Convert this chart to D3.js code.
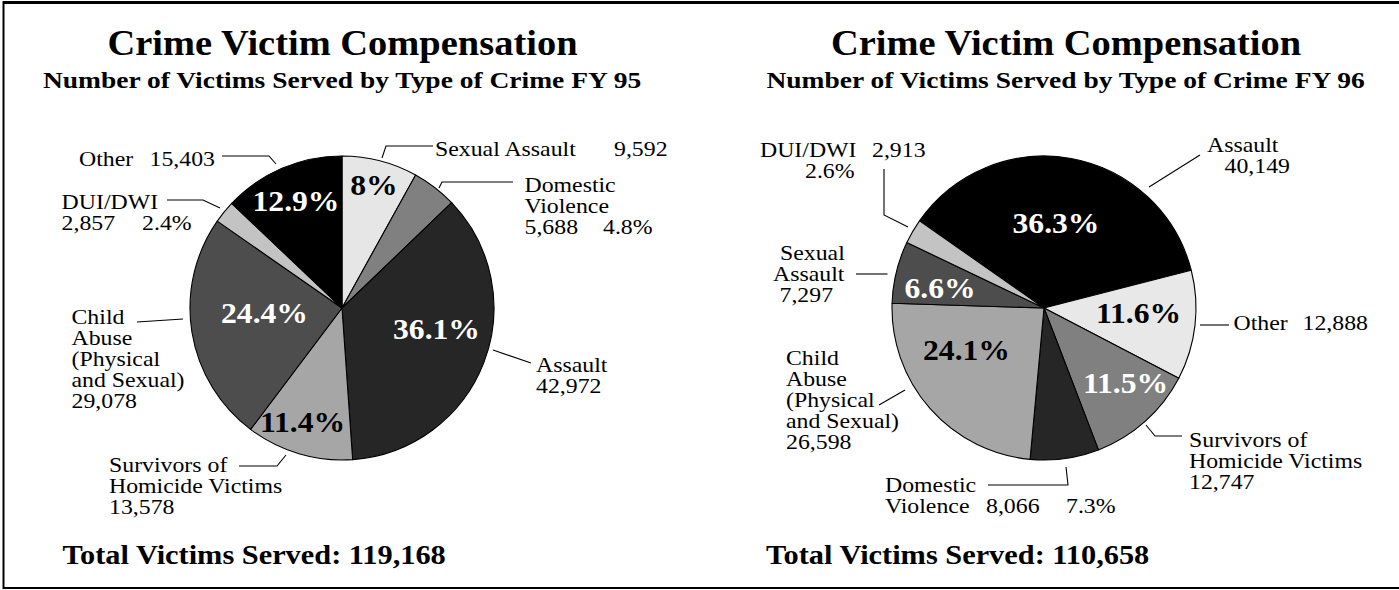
<!DOCTYPE html>
<html>
<head>
<meta charset="utf-8">
<script src="https://cdn.jsdelivr.net/npm/d3@7/dist/d3.min.js"></script>
<style>
  html, body { margin: 0; padding: 0; background: #fff; }
  svg { display: block; }
</style>
</head>
<body>
<svg id="chart" width="1399" height="590"></svg>
<script>
// ---------------- DATA ----------------
const titleText = "Crime Victim Compensation";
const subtitlePrefix = "Number of Victims Served by Type of Crime FY ";
const years = ["95", "96"];
const totals = [119168, 110658];

// FY 95 (clockwise from 12 o'clock)
const cats95 = ["Sexual Assault", "Domestic Violence", "Assault", "Survivors of Homicide Victims",
                "Child Abuse (Physical and Sexual)", "DUI/DWI", "Other"];
const vals95 = [9592, 5688, 42972, 13578, 29078, 2857, 15403];
const pct95  = [8, 4.8, 36.1, 11.4, 24.4, 2.4, 12.9];

// FY 96 (clockwise)
const cats96 = ["Assault", "Other", "Survivors of Homicide Victims", "Domestic Violence",
                "Child Abuse (Physical and Sexual)", "Sexual Assault", "DUI/DWI"];
const vals96 = [40149, 12888, 12747, 8066, 26598, 7297, 2913];
const pct96  = [36.3, 11.6, 11.5, 7.3, 24.1, 6.6, 2.6];

// ---------------- STYLE / LAYOUT ----------------
const fills95 = ["#e6e6e6", "#808080", "#262626", "#a6a6a6", "#4d4d4d", "#c3c3c3", "#000000"];
const fills96 = ["#000000", "#e8e8e8", "#808080", "#262626", "#a6a6a6", "#4d4d4d", "#c3c3c3"];

const fmt = d3.format(",");
const pctFmt = p => p + "%";

const FONT = "Liberation Serif";
const cv = document.createElement("canvas").getContext("2d");
function w(font, s) { cv.font = font; return cv.measureText(s).width; }
// horizontal stretch so that lettering spans the same widths as the reference
function fitScale(size, weight, str, target) {
  return target / w(`${weight} ${size}px "${FONT}", serif`, str);
}
const STY = {
  title:    {size: 35, weight: "bold"},
  subtitle: {size: 24, weight: "bold"},
  total:    {size: 27, weight: "bold"},
  pct:      {size: 30, weight: "bold"},
  label:    {size: 21, weight: "normal"}
};
STY.title.sx    = fitScale(35, "bold", titleText, 471);
STY.subtitle.sx = fitScale(24, "bold", subtitlePrefix + "95", 601);
STY.total.sx    = fitScale(27, "bold", "Total Victims Served: 119,168", 384);
STY.pct.sx      = fitScale(30, "bold", "36.1%", 87);
STY.label.sx    = fitScale(21, "normal", "and Sexual)", 113);

// label layouts relative to pie center; lines: [[text, dx], ...]; {v}=value, {p}=percent
const layout95 = {
  cx: 342, cy: 308, start: 0,
  titleX: 342.5, totalX: 62.5,
  inner: [
    [0, 32, -113, "#000"], [6, -46, -97, "#fff"], [4, -77.5, 15, "#fff"],
    [2, 94.5, 31, "#fff"], [3, -39.5, 124, "#000"]
  ],
  labels: [
    {i: 0, x: 93, y: -152, lines: [[["Sexual Assault", 0], ["{v}", 179]]],
     leader: [[91, -162], [44, -162], [40, -150]]},
    {i: 1, x: 182.5, y: -116, lines: [[["Domestic", 0]], [["Violence", 0]], [["{v}", 0], ["{p}", 78.5]]],
     leader: [[171, -126], [100, -126], [97, -120]]},
    {i: 2, x: 194, y: 64, lines: [[["Assault", 0]], [["{v}", 0]]],
     leader: [[189, 55], [151, 42]]},
    {i: 3, x: -233, y: 164, lines: [[["Survivors of", 0]], [["Homicide Victims", 0]], [["{v}", 0]]],
     leader: [[-103, 158], [-65, 158], [-56, 147]]},
    {i: 4, x: -270.5, y: 16, lines: [[["Child", 0]], [["Abuse", 0]], [["(Physical", 0]], [["and Sexual)", 0]], [["{v}", 0]]],
     leader: [[-205, 14], [-159, 11]]},
    {i: 5, x: -280.4, y: -99, lines: [[["DUI/DWI", 0]], [["{v}", 0], ["{p}", 80.5]]],
     leader: [[-175, -108], [-139, -108], [-122, -100]]},
    {i: 6, x: -263, y: -142, lines: [[["Other", 0], ["{v}", 70.5]]],
     leader: [[-120, -152], [-73, -152], [-66, -144]]}
  ]
};
const layout96 = {
  cx: 1044, cy: 308, start: -55 * Math.PI / 180,
  titleX: 1066, totalX: 766,
  inner: [
    [0, 12, -75, "#fff"], [1, 94.5, 15, "#000"], [2, 81.5, 85, "#fff"],
    [4, -77.5, 52, "#000"], [5, -104, -10, "#fff"]
  ],
  labels: [
    {i: 0, x: 163, y: -156, lines: [[["Assault", 0]], [["{v}", 17.5]]],
     leader: [[156, -153], [105, -121]]},
    {i: 1, x: 189.5, y: 22, lines: [[["Other", 0], ["{v}", 69]]],
     leader: [[185, 17], [156, 17]]},
    {i: 2, x: 145, y: 139, lines: [[["Survivors of", 0]], [["Homicide Victims", 0]], [["{v}", 0]]],
     leader: [[138, 128], [111, 128], [102, 117]]},
    {i: 3, x: -159, y: 184, lines: [[["Domestic", 0]], [["Violence", 0], ["{v}", 101], ["{p}", 181]]],
     leader: [[-56, 177], [24, 177], [22, 159]]},
    {i: 4, x: -258, y: 57, lines: [[["Child", 0]], [["Abuse", 0]], [["(Physical", 0]], [["and Sexual)", 0]], [["{v}", 0]]],
     leader: [[-165, 97], [-139, 82]]},
    {i: 5, x: -264, y: -48, lines: [[["Sexual", 0]], [["Assault", -7]], [["{v}", -0.5]]],
     leader: [[-188, -34], [-156.5, -34]]},
    {i: 6, x: -284, y: -151, lines: [[["DUI/DWI", 0], ["{v}", 112]], [["{p}", 45]]],
     leader: [[-160, -139], [-160, -93], [-136, -81]]}
  ]
};

const R = 152;
const LINE_H = 21;

const svg = d3.select("#chart");

// frame
svg.append("line").attr("x1", 3).attr("x2", 1399).attr("y1", 2.5).attr("y2", 2.5)
   .attr("stroke", "#000").attr("stroke-width", 3);
svg.append("line").attr("x1", 3.5).attr("x2", 3.5).attr("y1", 1).attr("y2", 589)
   .attr("stroke", "#000").attr("stroke-width", 2);
svg.append("line").attr("x1", 3).attr("x2", 1399).attr("y1", 588).attr("y2", 588)
   .attr("stroke", "#000").attr("stroke-width", 2);

function stretchedText(g, x, y, str, sty, opts = {}) {
  return g.append("text")
    .attr("transform", `translate(${x},${y}) scale(${sty.sx},1)`)
    .attr("text-anchor", opts.anchor || "start")
    .style("font-family", `"${FONT}", serif`)
    .style("font-size", sty.size + "px")
    .style("font-weight", sty.weight)
    .style("fill", opts.fill || "#000")
    .text(str);
}

function drawPie(cats, vals, pcts, fills, L, yi) {
  const g = svg.append("g");
  const pie = d3.pie().sort(null).value(d => d)
    .startAngle(L.start).endAngle(L.start + 2 * Math.PI);
  const arcs = pie(vals);
  const arc = d3.arc().innerRadius(0).outerRadius(R);

  const pg = g.append("g").attr("transform", `translate(${L.cx},${L.cy})`);
  pg.selectAll("path").data(arcs).join("path")
    .attr("d", arc)
    .attr("fill", (d, i) => fills[i])
    .attr("stroke", "#000")
    .attr("stroke-width", 1.1)
    .attr("stroke-linejoin", "round");

  L.inner.forEach(([i, dx, dy, col]) => {
    stretchedText(pg, dx, dy, pctFmt(pcts[i]), STY.pct, {anchor: "middle", fill: col});
  });

  L.labels.forEach(lb => {
    pg.append("path")
      .attr("d", d3.line()(lb.leader))
      .attr("fill", "none").attr("stroke", "#000").attr("stroke-width", 1.1);
    lb.lines.forEach((segs, li) => {
      segs.forEach(([txt, dx]) => {
        const s = txt.replace("{v}", fmt(vals[lb.i])).replace("{p}", pctFmt(pcts[lb.i]));
        stretchedText(pg, lb.x + dx, lb.y + li * LINE_H, s, STY.label);
      });
    });
  });

  stretchedText(g, L.titleX, 55, titleText, STY.title, {anchor: "middle"});
  stretchedText(g, L.titleX - 0.5, 88, subtitlePrefix + years[yi], STY.subtitle, {anchor: "middle"});
  stretchedText(g, L.totalX, 564, "Total Victims Served: " + fmt(totals[yi]), STY.total);
}

drawPie(cats95, vals95, pct95, fills95, layout95, 0);
drawPie(cats96, vals96, pct96, fills96, layout96, 1);
</script>
</body>
</html>
